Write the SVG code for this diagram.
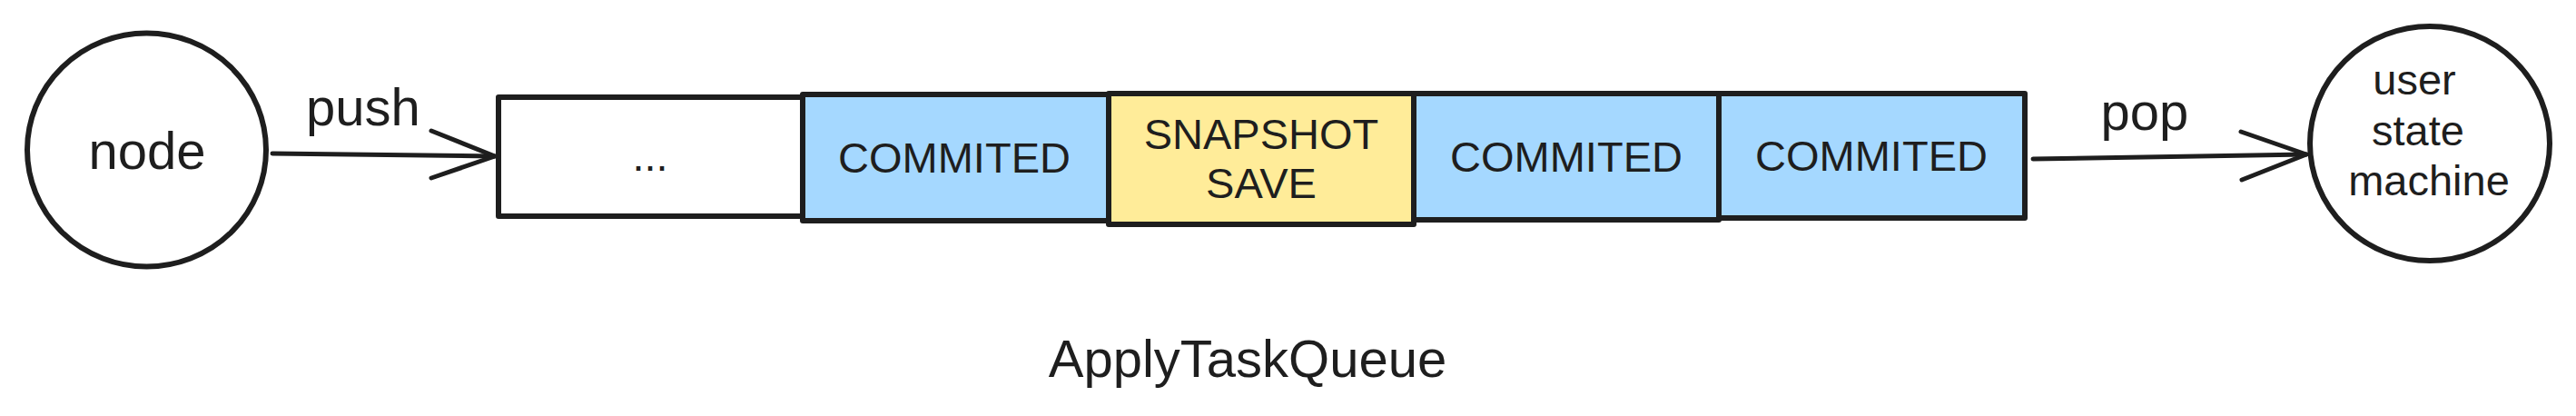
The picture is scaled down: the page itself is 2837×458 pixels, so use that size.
<svg xmlns="http://www.w3.org/2000/svg" width="2837" height="458" viewBox="0 0 2837 458">
<style>
.ln{fill:none;stroke:#1e1e1e;stroke-width:5;stroke-linecap:round;stroke-linejoin:round}
.cir{stroke:#1e1e1e;stroke-width:6;fill:#ffffff}
.bx{stroke:#1e1e1e;stroke-width:6;stroke-linejoin:round}
.blue{fill:#a5d8ff}
.yel{fill:#ffec99}
.wht{fill:#ffffff}
.t{font-family:"Liberation Sans",Arial,Helvetica,sans-serif;fill:#1e1e1e;text-anchor:middle}
.big{font-size:58px}
.mid{font-size:47px}
</style>
<rect width="2837" height="458" fill="#ffffff"/>
<g id="node-node">
<ellipse cx="161.5" cy="165" rx="131.5" ry="128.5" class="cir"/>
<text x="162" y="186" class="t big">node</text>
</g>
<g id="queue-empty">
<rect x="549" y="107" width="335" height="131" class="bx wht"/>
<text x="716" y="188" class="t mid">...</text>
</g>
<g id="queue-commited-1">
<rect x="884" y="104" width="337" height="139" class="bx blue"/>
<text x="1051" y="190" class="t mid">COMMITED</text>
</g>
<g id="queue-snapshot">
<rect x="1221" y="103" width="336" height="144" class="bx yel"/>
<text x="1389" y="164" class="t mid">SNAPSHOT</text>
<text x="1389" y="218" class="t mid">SAVE</text>
</g>
<g id="queue-commited-2">
<rect x="1557" y="103" width="336" height="139" class="bx blue"/>
<text x="1725" y="189" class="t mid">COMMITED</text>
</g>
<g id="queue-commited-3">
<rect x="1893" y="103" width="337" height="137" class="bx blue"/>
<text x="2061" y="188" class="t mid">COMMITED</text>
</g>
<g id="node-user-state-machine">
<ellipse cx="2676" cy="158" rx="132" ry="129" class="cir"/>
<text x="2659" y="104" class="t mid">user</text>
<text x="2663" y="160" class="t mid">state</text>
<text x="2675" y="215" class="t mid">machine</text>
</g>
<g id="connectors">
<path class="ln" d="M300 169 L545 172"/>
<path class="ln" d="M475 144 L545 172 L475 196"/>
<text x="400" y="138" class="t big">push</text>
<path class="ln" d="M2239 175 L2540 170"/>
<path class="ln" d="M2468 145 L2540 170 L2469 198"/>
<text x="2362" y="143" class="t big">pop</text>
</g>
<g id="caption">
<text x="1374" y="415" class="t big">ApplyTaskQueue</text>
</g>
</svg>
